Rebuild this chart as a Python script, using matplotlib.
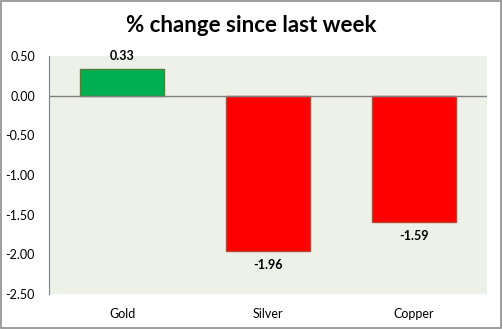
import matplotlib.pyplot as plt
from matplotlib.patches import Rectangle

plt.rcParams['font.family'] = ['Lato', 'DejaVu Sans']

# weekly price change per metal
metals = ['Gold', 'Silver', 'Copper']
changes = [0.33, -1.96, -1.59]
yticks = [0.5, 0.0, -0.5, -1.0, -1.5, -2.0, -2.5]

fig = plt.figure(figsize=(5.03, 3.29), dpi=100)
fig.patch.set_facecolor('white')
fig.patches.append(Rectangle((0.002, 0.003), 0.995, 0.994, transform=fig.transFigure,
                             fill=False, edgecolor='#8c8c8c', linewidth=1.2))

ax = fig.add_axes([49/503, 1 - 294/329, 438/503, 238/329])
ax.set_facecolor('#eef1e8')

fill = ['#00b050' if v >= 0 else '#ff0000' for v in changes]
edge = ['#4f7f3a' if v >= 0 else '#b5493a' for v in changes]
x = range(len(metals))
bars = ax.bar(x, changes, width=0.57, color=fill, edgecolor=edge, linewidth=1)

for b, v in zip(bars, changes):
    cx = b.get_x() + b.get_width() / 2
    if v >= 0:
        ax.text(cx, v + 0.1, f'{v:.2f}', ha='center', va='bottom', fontsize=9, fontweight='bold')
    else:
        ax.text(cx, v - 0.1, f'{v:.2f}', ha='center', va='top', fontsize=9, fontweight='bold')

ax.axhline(0, color='#808080', linewidth=1)
ax.set_xlim(-0.5, 2.5)
ax.set_ylim(-2.5, 0.5)
ax.set_yticks(yticks)
ax.set_yticklabels([f'{t:.2f}' for t in yticks], fontsize=9)
ax.set_xticks(list(x))
ax.set_xticklabels(metals, fontsize=9)
ax.tick_params(length=0, pad=10)
ax.tick_params(axis='x', pad=10)
for s in ['top', 'right', 'bottom']:
    ax.spines[s].set_visible(False)
ax.spines['left'].set_color('#808080')

fig.text(0.5, 1 - 25/329, '% change since last week', ha='center', va='center',
         fontsize=16, fontweight='bold')

fig.savefig('out.png', dpi=100)
